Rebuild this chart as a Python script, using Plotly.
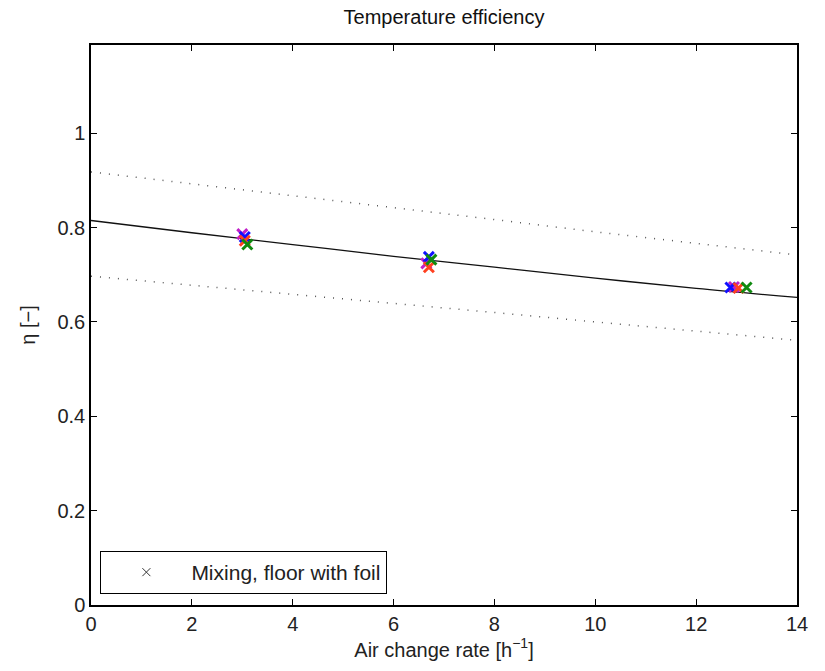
import plotly.graph_objects as go

# Measured temperature efficiency at three air change rates (four sensor series)
series_names = ["blue", "red", "green", "magenta"]
series_colors = ["#1010ff", "#ff4020", "#108a10", "#c020c8"]
ach_blue = [3.05, 6.70, 12.68]
eta_blue = [0.780, 0.738, 0.673]
ach_red = [3.05, 6.70, 12.84]
eta_red = [0.772, 0.716, 0.672]
ach_green = [3.10, 6.75, 13.00]
eta_green = [0.764, 0.732, 0.673]
ach_magenta = [3.00, 6.65, 12.75]
eta_magenta = [0.786, 0.724, 0.674]

# Fitted curve and prediction bounds
fit_x = [0, 2, 4, 6, 8, 10, 12, 14]
fit_y = [0.815, 0.789, 0.764, 0.739, 0.716, 0.693, 0.671, 0.652]
upper_y = [0.918, 0.893, 0.867, 0.842, 0.817, 0.791, 0.766, 0.742]
lower_y = [0.697, 0.678, 0.659, 0.640, 0.620, 0.600, 0.580, 0.561]

x_ticks = [0, 2, 4, 6, 8, 10, 12, 14]
y_ticks = [0, 0.2, 0.4, 0.6, 0.8, 1.0]
y_tick_text = ["0", "0.2", "0.4", "0.6", "0.8", "1"]

FONT = "Liberation Sans, Arial, sans-serif"
TXT = "#222222"

fig = go.Figure()

for band in (upper_y, lower_y):
    fig.add_trace(go.Scatter(x=fit_x, y=band, mode="lines",
                             line=dict(color="#555555", width=1.5, dash="1px,8px"),
                             showlegend=False, hoverinfo="skip"))
fig.add_trace(go.Scatter(x=fit_x, y=fit_y, mode="lines", line_shape="spline",
                         line=dict(color="#111111", width=1.3),
                         showlegend=False))

data = [(ach_magenta, eta_magenta), (ach_blue, eta_blue),
        (ach_red, eta_red), (ach_green, eta_green)]
order = [3, 0, 1, 2]
for (xs, ys), idx in zip(data, order):
    fig.add_trace(go.Scatter(
        x=xs, y=ys, mode="markers", name=series_names[idx], showlegend=False,
        marker=dict(symbol="x-thin", size=10,
                    line=dict(color=series_colors[idx], width=3)),
    ))

# Legend entry
fig.add_trace(go.Scatter(
    x=[None], y=[None], mode="markers", name="Mixing, floor with foil",
    marker=dict(symbol="x-thin", size=8, line=dict(color="#333333", width=1)),
))

axis_common = dict(
    showline=True, linecolor="black", linewidth=1.5, mirror="ticks",
    ticks="inside", ticklen=6, tickcolor="black", tickwidth=1,
    showgrid=False, zeroline=False,
    tickfont=dict(family=FONT, size=20, color=TXT),
)

fig.update_layout(
    width=825, height=671,
    margin=dict(l=91, r=28, t=45, b=66),
    paper_bgcolor="white", plot_bgcolor="white",
    title=dict(text="Temperature efficiency", x=0.5, xanchor="center",
               xref="paper", y=1, yref="container", yanchor="top", pad=dict(t=10),
               font=dict(family=FONT, size=20, color="#111111")),
    xaxis=dict(range=[0, 14], tickvals=x_ticks,
               title=dict(text="Air change rate [h<sup>−1</sup>]", standoff=9,
                          font=dict(family=FONT, size=20, color=TXT)),
               **axis_common),
    yaxis=dict(range=[0, 1.187], tickvals=y_ticks, ticktext=y_tick_text,
               title=dict(text="η [−]", standoff=16,
                          font=dict(family=FONT, size=20, color=TXT)),
               **axis_common),
    legend=dict(x=0.013, y=0.02, xanchor="left", yanchor="bottom",
                bordercolor="black", borderwidth=1.2, bgcolor="white",
                font=dict(family=FONT, size=21, color=TXT),
                itemwidth=80),
)

fig.write_html("out.html")
